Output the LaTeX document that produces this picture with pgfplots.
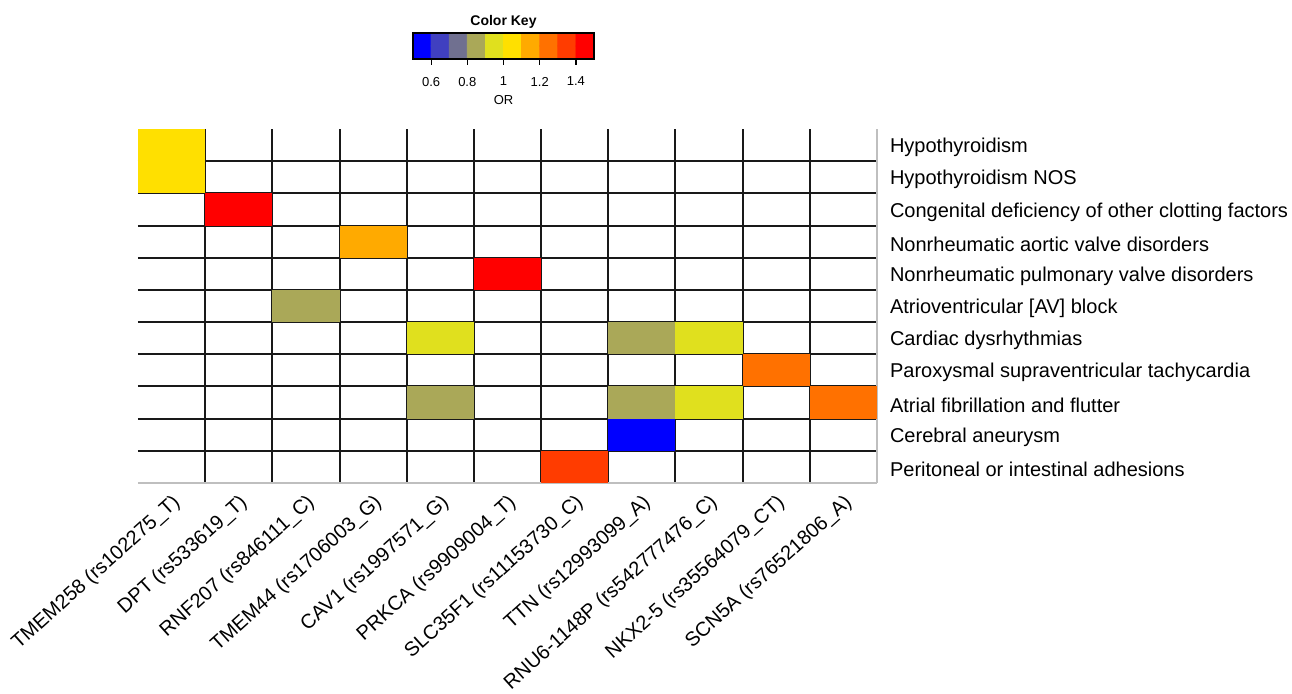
\documentclass[border=0pt]{standalone}
\usepackage{fontspec}
\setmainfont{Liberation Sans}
\usepackage{pgfplots}
\pgfplotsset{compat=1.18}

% one heatmap cell, 1 x 1 axis units
\pgfdeclareplotmark{cell}{%
  \pgfpathrectanglecorners{\pgfpoint{-16.8pt}{-8.045pt}}{\pgfpoint{16.8pt}{8.045pt}}%
  \pgfusepathqfill}

% ten bins of 0.1 from 0.5 to 1.5
\pgfplotsset{
  colormap={orkey}{rgb255=(0,0,255) rgb255=(64,64,192) rgb255=(112,112,144)
    rgb255=(170,168,88) rgb255=(224,224,30) rgb255=(255,224,0) rgb255=(255,170,0)
    rgb255=(255,113,0) rgb255=(255,60,0) rgb255=(255,0,0)},
  orstyle/.style={colormap name=orkey, colormap access=piecewise constant,
    point meta min=0.5, point meta max=1.5},
}

\begin{document}
\begin{tikzpicture}
\begin{axis}[
  orstyle,
  at={(69pt,105.5pt)}, anchor=south west,
  x=33.59pt, y=16.09pt,
  xmin=0.5, xmax=11.5, ymin=0.5, ymax=11.5,
  xtick={1,...,11}, ytick={1,...,11},
  xticklabels={
    TMEM258 (rs102275\_T), DPT (rs533619\_T), RNF207 (rs846111\_C),
    TMEM44 (rs1706003\_G), CAV1 (rs1997571\_G), PRKCA (rs9909004\_T),
    SLC35F1 (rs11153730\_C), TTN (rs12993099\_A), RNU6-1148P (rs542777476\_C),
    NKX2-5 (rs35564079\_CT), SCN5A (rs76521806\_A)},
  yticklabels={
    Peritoneal or intestinal adhesions, Cerebral aneurysm,
    Atrial fibrillation and flutter, Paroxysmal supraventricular tachycardia,
    Cardiac dysrhythmias, Atrioventricular [AV] block,
    Nonrheumatic pulmonary valve disorders, Nonrheumatic aortic valve disorders,
    Congenital deficiency of other clotting factors, Hypothyroidism NOS,
    Hypothyroidism},
  minor xtick={1.5,2.5,...,10.5}, minor ytick={1.5,2.5,...,10.5},
  grid=minor, minor grid style={black!90, line width=1pt},
  major tick length=0pt, minor tick length=0pt,
  axis x line*=bottom, axis y line*=right,
  axis line style={-, gray!50, line width=0.6pt},
  xticklabel pos=left, yticklabel pos=right,
  xticklabel style={rotate=42, anchor=north east},
  yticklabel style={anchor=west, xshift=3pt, yshift=-1.2pt},
  axis on top,
]
\addplot[scatter, only marks, mark=cell, point meta=explicit,
  scatter/use mapped color={draw=none, fill=mapped color}]
  table[meta=or] {
x  y  or
1  11 1.05
1  10 1.05
2  9  1.45
4  8  1.15
6  7  1.45
3  6  0.85
5  5  0.95
8  5  0.85
9  5  0.95
10 4  1.25
5  3  0.85
8  3  0.85
9  3  0.95
11 3  1.25
8  2  0.55
7  1  1.35
};
\end{axis}

% colour key
\begin{axis}[
  orstyle,
  at={(206.5pt,317.5pt)}, anchor=south west,
  scale only axis, width=90.5pt, height=13pt,
  xmin=0.5, xmax=1.5, ymin=0, ymax=1,
  ytick=\empty, xtick={0.6,0.8,1,1.2,1.4},
  tick align=outside, xtick pos=left, major tick length=3pt,
  tick style={black, line width=0.6pt},
  axis line style={line width=0.6pt},
  /pgf/number format/assume math mode=true,
  ticklabel style={font=\fontsize{6.5}{7}\selectfont},
  xticklabel style={yshift=-2.5pt},
  title={Color Key}, title style={font=\bfseries\fontsize{7}{8}\selectfont, yshift=-7pt},
  clip=false,
  axis on top,
]
\addplot[matrix plot*, mesh/cols=10, mesh/rows=2, point meta=explicit]
  table[meta=c] {
x    y    c
0.55 0.25 0.55
0.65 0.25 0.65
0.75 0.25 0.75
0.85 0.25 0.85
0.95 0.25 0.95
1.05 0.25 1.05
1.15 0.25 1.15
1.25 0.25 1.25
1.35 0.25 1.35
1.45 0.25 1.45
0.55 0.75 0.55
0.65 0.75 0.65
0.75 0.75 0.75
0.85 0.75 0.85
0.95 0.75 0.95
1.05 0.75 1.05
1.15 0.75 1.15
1.25 0.75 1.25
1.35 0.75 1.35
1.45 0.75 1.45
};
\node[font=\fontsize{6.5}{7}\selectfont, yshift=-20.5pt] at (rel axis cs:0.5,0) {OR};
\end{axis}

\pgfresetboundingbox
\path[use as bounding box] (0,0) rectangle (646pt,347pt);
\end{tikzpicture}
\end{document}
